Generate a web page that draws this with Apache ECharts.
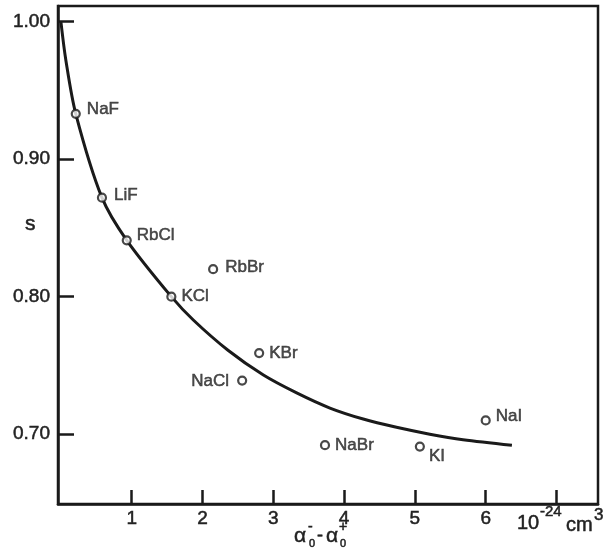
<!DOCTYPE html>
<html>
<head>
<meta charset="utf-8">
<script src="https://cdn.jsdelivr.net/npm/echarts@6/dist/echarts.min.js"></script>
<style>
  html, body { margin: 0; padding: 0; background: #fff; }
  #chart { width: 607px; height: 554px; }
</style>
</head>
<body>
<div id="chart"></div>
<script>
// Alkali halide crystals: polarizability difference vs. s
const compounds = ['NaF', 'LiF', 'RbCl', 'KCl', 'RbBr', 'KBr', 'NaCl', 'NaBr', 'KI', 'NaI'];
const polarDiff = [0.21, 0.58, 0.93, 1.56, 2.15, 2.80, 2.56, 3.73, 5.07, 6.00];
const sValues   = [0.933, 0.872, 0.841, 0.800, 0.820, 0.759, 0.739, 0.692, 0.691, 0.710];

// Theoretical curve
const curveX = [0, 0.07, 0.21, 0.58, 0.93, 1.56, 1.87, 2.36, 2.86, 3.33, 3.80, 4.27, 4.74, 5.21, 5.68, 6.37];
const curveY = [1.000, 0.972, 0.933, 0.872, 0.841, 0.800, 0.783, 0.761, 0.743, 0.730, 0.719, 0.711, 0.705, 0.700, 0.696, 0.692];

const xTicks = [1, 2, 3, 4, 5, 6, 7];
const xTickLabels = [1, 2, 3, 4, 5, 6];
const yTicks = [0.70, 0.80, 0.90, 1.00];

const FONT = '"Liberation Sans", Arial, Helvetica, sans-serif';
const INK = '#1a1a1a';
const TXT = '#222222';
// a hairline outline in the text colour gives the labels a heavier stroke
const heavy = { textBorderColor: TXT, textBorderWidth: 0.5 };

// label placement for the marked compounds
const labelPlace = {
  NaF:  { position: 'right', offset: [1, -4] },
  LiF:  { position: 'right', offset: [2, -2] },
  RbCl: { position: 'right', offset: [0, -5] },
  KCl:  { position: 'right', offset: [0, 0] },
  RbBr: { position: 'right', offset: [2, -2] },
  KBr:  { position: 'right', offset: [0, 0] },
  NaCl: { position: 'left',  offset: [-3, 1] },
  NaBr: { position: 'right', offset: [0, 0] },
  KI:   { position: 'right', offset: [-1, 10] },
  NaI:  { position: 'right', offset: [0, -4] }
};

const points = compounds.map((name, i) => ({
  name: name,
  value: [polarDiff[i], sValues[i]],
  label: Object.assign({}, labelPlace[name])
}));

function txt(text, x, y, size, extra) {
  return {
    type: 'text', x: x, y: y,
    style: Object.assign({
      text: text, font: size + 'px ' + FONT, fill: TXT,
      verticalAlign: 'middle', stroke: TXT, lineWidth: 0.5
    }, extra || {})
  };
}

const chart = echarts.init(document.getElementById('chart'), null, { renderer: 'canvas' });

chart.setOption({
  backgroundColor: '#ffffff',
  animation: false,
  grid: {
    left: 58, top: 6, right: 9, bottom: 50,
    show: true, borderColor: INK, borderWidth: 2.5, backgroundColor: 'transparent'
  },
  xAxis: {
    type: 'value',
    min: -0.041, max: 7.586,
    splitLine: { show: false },
    axisLine: { show: true, onZero: false, lineStyle: { color: INK, width: 2.5 } },
    axisTick: { show: true, inside: true, length: 14, customValues: xTicks, lineStyle: { color: INK, width: 2.5 } },
    axisLabel: Object.assign({ customValues: xTickLabels, fontSize: 19, color: TXT, fontFamily: FONT, margin: 5 }, heavy)
  },
  yAxis: {
    type: 'value',
    min: 0.6492, max: 1.0114,
    splitLine: { show: false },
    axisLine: { show: true, onZero: false, lineStyle: { color: INK, width: 2.5 } },
    axisTick: { show: true, inside: true, length: 16, customValues: yTicks, lineStyle: { color: INK, width: 2.5 } },
    axisLabel: Object.assign({
      customValues: yTicks, fontSize: 19, color: TXT, fontFamily: FONT, margin: 8,
      formatter: v => v.toFixed(2)
    }, heavy)
  },
  series: [
    {
      type: 'line',
      data: curveX.map((x, i) => [x, curveY[i]]),
      smooth: 0.3,
      symbol: 'none',
      lineStyle: { color: INK, width: 3 },
      z: 2
    },
    {
      type: 'scatter',
      data: points,
      symbol: 'circle',
      symbolSize: 8,
      itemStyle: { color: '#ffffff', borderColor: INK, borderWidth: 2.2 },
      label: Object.assign({
        show: true,
        formatter: p => p.name,
        fontSize: 17,
        color: TXT,
        fontFamily: FONT,
        distance: 5
      }, heavy),
      z: 3
    }
  ],
  graphic: [
    // y-axis title
    txt('s', 25, 224, 21),
    // x-axis title: alpha0^- - alpha0^+
    txt('α', 294, 536, 21),
    txt('-', 308, 527, 14),
    txt('0', 309, 544, 11),
    txt('-', 317, 536, 18),
    txt('α', 326, 536, 21),
    txt('+', 339, 527, 14),
    txt('0', 340, 544, 11),
    // unit: 10^-24 cm^3
    txt('10', 517, 523, 20),
    txt('-24', 540, 512, 15),
    txt('cm', 566, 525, 20),
    txt('3', 594, 515, 17)
  ]
});
</script>
</body>
</html>
